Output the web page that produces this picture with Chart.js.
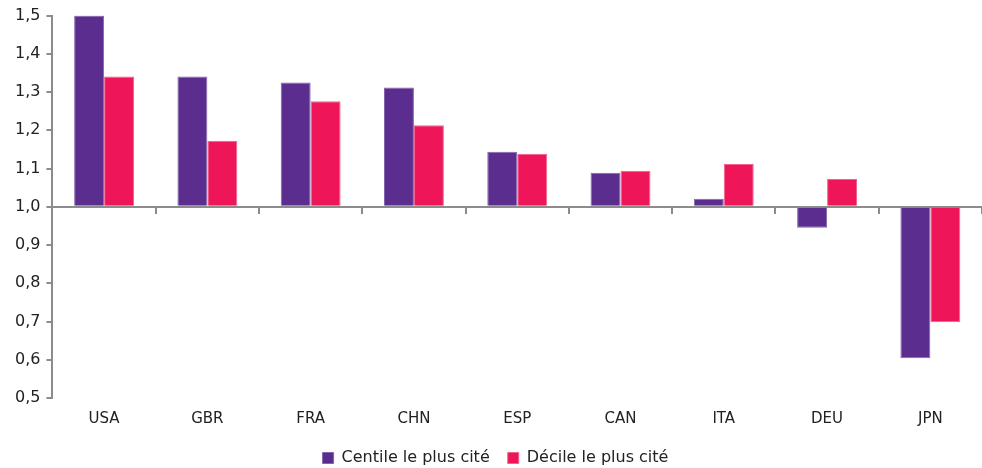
<!DOCTYPE html>
<html>
<head>
<meta charset="utf-8">
<script src="https://cdn.jsdelivr.net/npm/chart.js@4"></script>
<style>
  html, body { margin: 0; padding: 0; background: #fff; }
  #wrap { width: 982px; height: 468px; }
</style>
</head>
<body>
<div id="wrap"><canvas id="myChart"></canvas></div>
<script>
const countries = ['USA', 'GBR', 'FRA', 'CHN', 'ESP', 'CAN', 'ITA', 'DEU', 'JPN'];
const centile = [1.50, 1.341, 1.325, 1.312, 1.144, 1.089, 1.021, 0.945, 0.604];
const decile = [1.341, 1.173, 1.276, 1.213, 1.139, 1.094, 1.112, 1.073, 0.698];
const seriesNames = ['Centile le plus cité', 'Décile le plus cité'];
const yTicks = [0.5, 0.6, 0.7, 0.8, 0.9, 1.0, 1.1, 1.2, 1.3, 1.4, 1.5];

const axisGrey = '#8c8c8c';
const fontName = '"DejaVu Sans", sans-serif';

Chart.defaults.font.family = fontName;
Chart.defaults.color = '#222';

const ctx = document.getElementById('myChart').getContext('2d');
const myChart = new Chart(ctx, {
    type: 'bar',
    data: {
        labels: countries,
        datasets: [{
            label: seriesNames[0],
            data: centile,
            base: 1,
            backgroundColor: '#5b2d8e',
            borderColor: '#8466ad',
            borderWidth: 1
        }, {
            label: seriesNames[1],
            data: decile,
            base: 1,
            backgroundColor: '#ee1659',
            borderColor: '#f0628c',
            borderWidth: 1
        }]
    },
    options: {
        responsive: true,
        maintainAspectRatio: false,
        animation: false,
        categoryPercentage: 0.58,
        barPercentage: 1,
        layout: { padding: { top: 11, left: 9, right: 0, bottom: -8 } },
        plugins: {
            tooltip: { enabled: false },
            legend: {
                position: 'bottom',
                labels: {
                    boxWidth: 11,
                    boxHeight: 11,
                    padding: 18,
                    font: { size: 16 }
                }
            }
        },
        scales: {
            y: {
                min: 0.5,
                max: 1.5,
                afterBuildTicks: (axis) => { axis.ticks = yTicks.map(v => ({ value: v })); },
                ticks: {
                    font: { size: 16 },
                    padding: 6,
                    callback: (v) => v.toFixed(1).replace('.', ',')
                },
                grid: { drawOnChartArea: false, tickLength: 6, color: axisGrey, lineWidth: 2 },
                border: { color: axisGrey, width: 2 }
            },
            x: {
                position: { y: 1 },
                ticks: { display: false },
                grid: { drawOnChartArea: false, offset: true, tickLength: 6, color: axisGrey, lineWidth: 2 },
                border: { color: axisGrey, width: 2 }
            },
            x2: {
                type: 'category',
                position: 'bottom',
                labels: countries,
                offset: true,
                ticks: { font: { size: 15 }, padding: 4 },
                grid: { display: false },
                border: { display: false }
            }
        }
    }
});
</script>
</body>
</html>
